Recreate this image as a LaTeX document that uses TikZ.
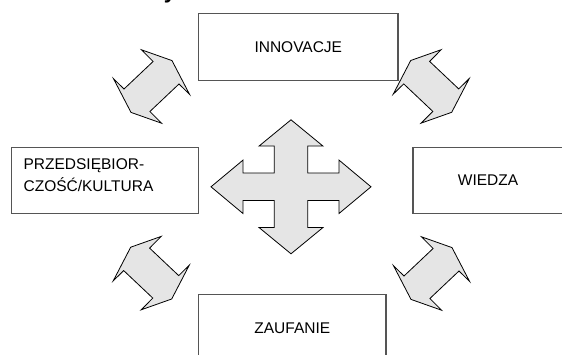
\documentclass[tikz,border=0pt]{standalone}
\usepackage{fontspec}
\setmainfont{Liberation Sans}
\definecolor{boxgray}{HTML}{555555}
\definecolor{arrowgray}{HTML}{E5E5E5}
\begin{document}
\begin{tikzpicture}[x=1pt,y=-1pt,
  box/.style={draw=boxgray, line width=1.1pt, fill=white, inner sep=0pt, font=\fontsize{15.5}{18}\selectfont},
  lbl/.style={inner sep=0pt, font=\fontsize{15.5}{18}\selectfont},
  shapefill/.style={draw=black, line width=0.8pt, fill=arrowgray, line join=miter},
  diag/.pic={\path[shapefill] (-10,-36.7) -- (20.5,-25.9) -- (38,7.8) -- (27.5,-2.5) -- (-1.6,25) -- (10,36.7) -- (-20.5,25.9) -- (-38,-7.8) -- (-27.5,2.5) -- (1.6,-25) -- cycle;}
]
\useasboundingbox (0,0) rectangle (562,355);

% cut-off title fragment
\node[inner sep=0pt, anchor=base, font=\bfseries\fontsize{22}{26}\selectfont] (title) at (170,-1) {y};

% boxes
\node[box, minimum width=199.4pt, minimum height=66.7pt] (innov) at (298.3,47.3) {INNOVACJE};
\node[box, minimum width=187.1pt, minimum height=66pt] (przed) at (105.05,180.3) {};
\node[lbl, anchor=base west] (przed1) at (23.4,169.3) {PRZEDSIĘBIOR-};
\node[lbl, anchor=base west] (przed2) at (23.4,191.7) {CZOŚĆ/KULTURA};
\node[box, minimum width=150pt, minimum height=66pt] (wiedza) at (488,180.3) {WIEDZA};
\node[box, minimum width=187.4pt, minimum height=68pt] (zauf) at (292.3,328.3) {ZAUFANIE};

% central four-way arrow
\begin{scope}[shift={(291,186.8)}]
\path[shapefill] (0,-67) -- (32,-40.7) -- (16.7,-40.7) -- (16.7,-13.7) -- (48,-13.7) -- (48,-26.7) -- (80,0)
  -- (48,26.7) -- (48,13.7) -- (16.7,13.7) -- (16.7,40.7) -- (32,40.7) -- (0,67)
  -- (-32,40.7) -- (-16.7,40.7) -- (-16.7,13.7) -- (-48,13.7) -- (-48,26.7) -- (-80,0)
  -- (-48,-26.7) -- (-48,-13.7) -- (-16.7,-13.7) -- (-16.7,-40.7) -- (-32,-40.7) -- cycle;
\end{scope}

% diagonal double arrows
\pic at (151.5,86.5) {diag};
\pic[xscale=-1] at (431.2,86.4) {diag};
\pic[xscale=-1] at (151.2,273.1) {diag};
\pic at (431.5,273.5) {diag};
\end{tikzpicture}
\end{document}
